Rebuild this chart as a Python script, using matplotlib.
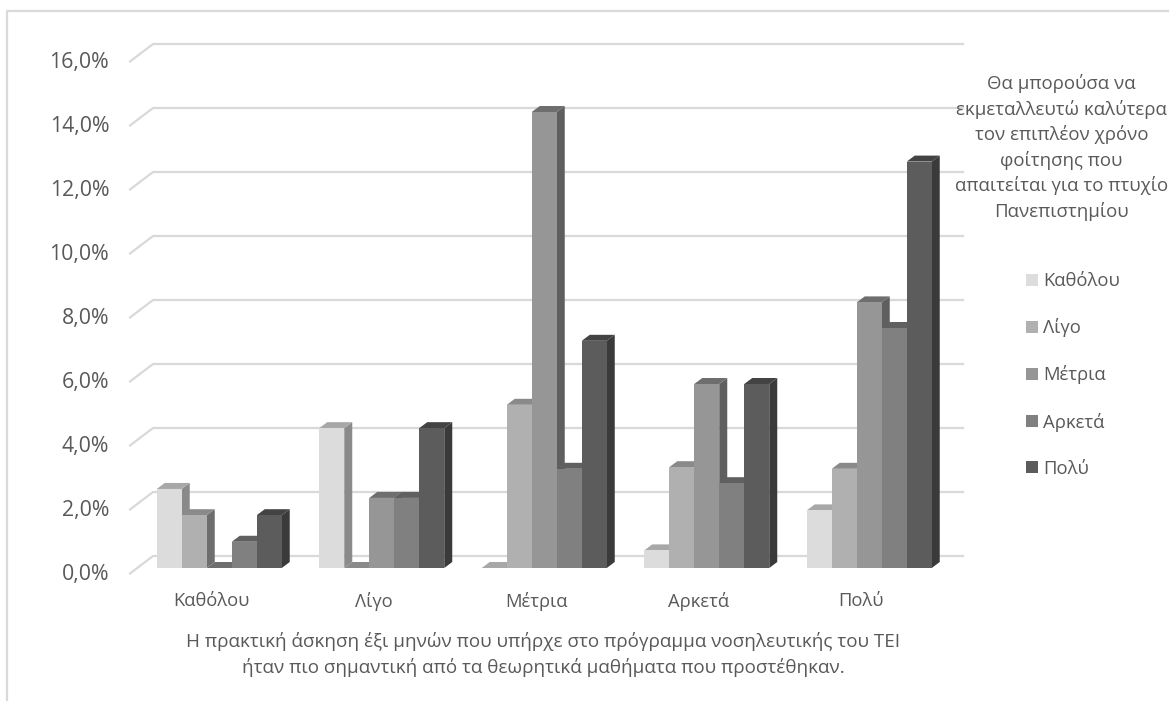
#!/usr/bin/env python3
"""Recreate the grey pseudo-3D clustered column chart."""

import matplotlib
matplotlib.use("Agg")
import matplotlib.pyplot as plt
import numpy as np
from matplotlib.lines import Line2D
from matplotlib.transforms import ScaledTranslation

plt.rcParams['font.family'] = ['Open Sans', 'Noto Sans', 'DejaVu Sans']

categories = ['Καθόλου', 'Λίγο', 'Μέτρια', 'Αρκετά', 'Πολύ']
series_names = ['Καθόλου', 'Λίγο', 'Μέτρια', 'Αρκετά', 'Πολύ']

# percentages per response, one list per legend entry
katholou = [2.47, 4.37, 0.0, 0.55, 1.8]
ligo = [1.65, 0.0, 5.1, 3.15, 3.1]
metria = [0.0, 2.19, 14.25, 5.75, 8.3]
arketa = [0.82, 2.19, 3.1, 2.65, 7.5]
poly = [1.65, 4.37, 7.1, 5.75, 12.7]
y_ticks = [0, 2, 4, 6, 8, 10, 12, 14, 16]

front_colors = ['#dcdcdc', '#b0b0b0', '#969696', '#808080', '#5c5c5c']
side_colors = ['#8a8a8a', '#6e6e6e', '#5f5f5f', '#555555', '#3a3a3a']
top_colors = ['#a8a8a8', '#8a8a8a', '#6e6e6e', '#606060', '#434343']
grid_color = '#d9d9d9'
text_color = '#595959'

W, H = 1169, 701
fig = plt.figure(figsize=(W / 100, H / 100), dpi=100)
# axes box is the front plane of the 3D chart: x 130-942.5 px, y 568-56 px
ax = fig.add_axes([130 / W, 1 - 568 / H, 812.5 / W, 512 / H])
ax.set_xlim(-0.5, 4.5)
ax.set_ylim(0, 16)
px = 5 / 812.5  # one pixel in x data units
py = 16 / 512   # one pixel in y data units

# frame of the original picture
fig.add_artist(Line2D([7 / W, 7 / W, 1], [0, 1 - 11 / H, 1 - 11 / H],
                      color=grid_color, lw=1.6))

# back wall gridlines and their diagonal part on the side wall
wall_dx, wall_dy = 23 * px, 12 * py
for v in y_ticks:
    ax.plot([-0.5, -0.5 + wall_dx, -0.5 + 833 * px],
            [v - 5.5 * py, v + wall_dy, v + wall_dy],
            color=grid_color, lw=1.6, clip_on=False, zorder=1,
            solid_joinstyle='round')

# bars
bar_w = 25 * px
depth_x, depth_y = 8 * px, 6 * py
all_series = [katholou, ligo, metria, arketa, poly]
legend_handles = []
for i, vals in enumerate(all_series):
    xs = np.arange(len(categories)) + (i - 2) * bar_w + 8 * px
    bars = ax.bar(xs, vals, bar_w, color=front_colors[i], linewidth=0,
                  zorder=3 + i * 0.1 + 0.05, label=series_names[i])
    legend_handles.append(bars)
    for x, v in zip(xs, vals):
        l, r = x - bar_w / 2, x + bar_w / 2
        ax.fill([r, r + depth_x, r + depth_x, r],
                [0, depth_y, v + depth_y, v],
                color=side_colors[i], lw=0, clip_on=False, zorder=3 + i * 0.1)
        ax.fill([l, l + depth_x, r + depth_x, r],
                [v, v + depth_y, v + depth_y, v],
                color=top_colors[i], lw=0, clip_on=False, zorder=3 + i * 0.1)

for s in ax.spines.values():
    s.set_visible(False)
ax.patch.set_visible(False)

ax.set_yticks(y_ticks)
ax.set_yticklabels([f'{v:.1f}%'.replace('.', ',') for v in y_ticks],
                   fontsize=15.3, color=text_color)
ax.set_xticks(range(len(categories)))
ax.set_xticklabels(categories, fontsize=13.2, color=text_color)
ax.tick_params(axis='y', length=0, pad=15)
ax.tick_params(axis='x', length=0, pad=17)

# value labels sit a few pixels below their gridline in the original
shift = ScaledTranslation(0, -4 / 100, fig.dpi_scale_trans)
for label in ax.get_yticklabels():
    label.set_transform(label.get_transform() + shift)

ax.set_xlabel('Η πρακτική άσκηση έξι μηνών που υπήρχε στο πρόγραμμα νοσηλευτικής του ΤΕΙ\n'
              'ήταν πιο σημαντική από τα θεωρητικά μαθήματα που προστέθηκαν.',
              fontsize=13.55, color=text_color, linespacing=1.45)
ax.xaxis.set_label_coords((543 - 130) / 812.5, -(632 - 568) / 512)

fig.text(1061.5 / W, 1 - 147.5 / H,
         'Θα μπορούσα να\nεκμεταλλευτώ καλύτερα\nτον επιπλέον χρόνο\nφοίτησης που\n'
         'απαιτείται για το πτυχίο\nΠανεπιστημίου',
         fontsize=13.4, color=text_color, ha='center', va='center', linespacing=1.43)

leg = ax.legend(handles=legend_handles, loc='center left',
                bbox_to_anchor=(1026 / W, 1 - 375 / H),
                bbox_transform=fig.transFigure, frameon=False, fontsize=13.3,
                labelcolor=text_color, handlelength=0.65, handleheight=0.65,
                handletextpad=0.27, labelspacing=1.52, borderpad=0,
                borderaxespad=0)

fig.savefig('out.png', dpi=100)
